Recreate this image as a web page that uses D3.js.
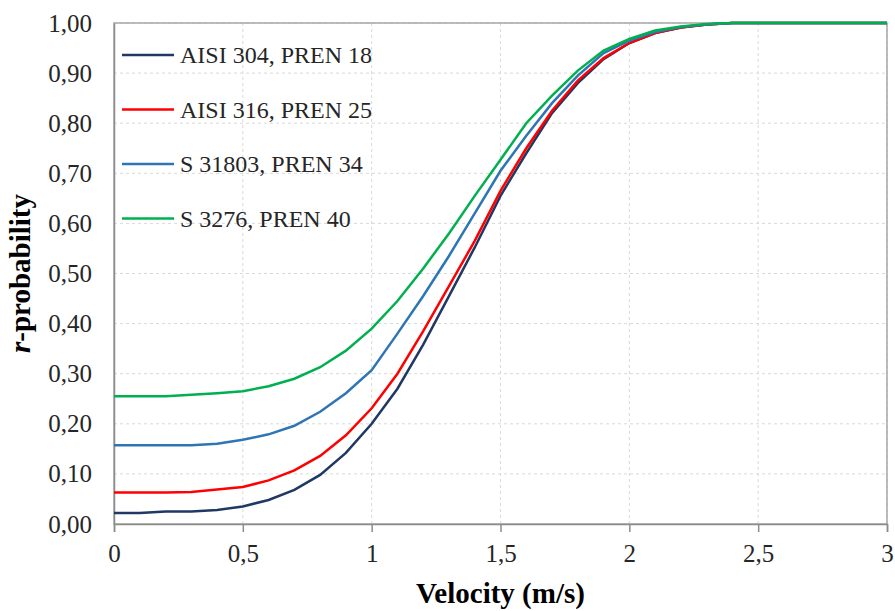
<!DOCTYPE html>
<html>
<head>
<meta charset="utf-8">
<script src="https://cdn.jsdelivr.net/npm/d3@7"></script>
<style>
  body { margin: 0; background: #fff; }
</style>
</head>
<body>
<svg id="chart" width="895" height="611"></svg>
<script>
// velocity steps (m/s)
var velocity = [0, 0.1, 0.2, 0.3, 0.4, 0.5, 0.6, 0.7, 0.8, 0.9, 1.0,
  1.1, 1.2, 1.3, 1.4, 1.5, 1.6, 1.7, 1.8, 1.9, 2.0,
  2.1, 2.2, 2.3, 2.4, 2.5, 2.6, 2.7, 2.8, 2.9, 3.0];

// r-probability per steel grade
var aisi304 = [0.022, 0.022, 0.025, 0.025, 0.028, 0.035, 0.048, 0.068, 0.098, 0.142, 0.200,
  0.270, 0.358, 0.455, 0.552, 0.655, 0.740, 0.820, 0.880, 0.928, 0.960,
  0.980, 0.991, 0.997, 1, 1, 1, 1, 1, 1, 1];
var aisi316 = [0.063, 0.063, 0.063, 0.064, 0.069, 0.074, 0.087, 0.107, 0.136, 0.177, 0.231,
  0.300, 0.385, 0.475, 0.565, 0.665, 0.750, 0.825, 0.885, 0.930, 0.960,
  0.980, 0.991, 0.997, 1, 1, 1, 1, 1, 1, 1];
var s31803 = [0.157, 0.157, 0.157, 0.157, 0.160, 0.168, 0.179, 0.196, 0.224, 0.261, 0.307,
  0.380, 0.455, 0.535, 0.620, 0.705, 0.775, 0.840, 0.895, 0.940, 0.965,
  0.982, 0.992, 0.997, 1, 1, 1, 1, 1, 1, 1];
var s3276 = [0.255, 0.255, 0.255, 0.258, 0.261, 0.265, 0.275, 0.290, 0.313, 0.346, 0.390,
  0.445, 0.510, 0.580, 0.655, 0.727, 0.800, 0.855, 0.905, 0.945, 0.968,
  0.985, 0.993, 0.998, 1, 1, 1, 1, 1, 1, 1];

var seriesNames = ["AISI 304, PREN 18", "AISI 316, PREN 25", "S 31803, PREN 34", "S 3276, PREN 40"];
var seriesColors = ["#1f3864", "#ff0000", "#2e75b6", "#00b050"];
var seriesValues = [aisi304, aisi316, s31803, s3276];

var xTicks = [0, 0.5, 1, 1.5, 2, 2.5, 3];
var yTicks = [0, 0.1, 0.2, 0.3, 0.4, 0.5, 0.6, 0.7, 0.8, 0.9, 1.0];

var serif = '"Liberation Serif", "Times New Roman", serif';
var svg = d3.select("#chart");
var margin = {left: 114, right: 8, top: 23, bottom: 87};
var W = 895, H = 611;

var x = d3.scaleLinear().domain([0, 3]).range([margin.left, W - margin.right]);
var y = d3.scaleLinear().domain([0, 1]).range([H - margin.bottom, margin.top]);

var comma = function(s) { return s.replace(".", ","); };

// dashed grid
svg.append("g").selectAll("line").data(yTicks.slice(1)).join("line")
  .attr("x1", x(0)).attr("x2", x(3))
  .attr("y1", d => y(d)).attr("y2", d => y(d))
  .attr("stroke", "#d9d9d9").attr("stroke-dasharray", "3,3");
svg.append("g").selectAll("line").data(xTicks.slice(1)).join("line")
  .attr("x1", d => x(d)).attr("x2", d => x(d))
  .attr("y1", y(0)).attr("y2", y(1))
  .attr("stroke", "#d9d9d9").attr("stroke-dasharray", "3,3");

// plot frame
svg.append("rect")
  .attr("x", x(0)).attr("y", y(1))
  .attr("width", x(3) - x(0)).attr("height", y(0) - y(1))
  .attr("fill", "none").attr("stroke", "#a6a6a6").attr("stroke-width", 1.5);

// x axis
var xAxis = d3.axisBottom(x).tickValues(xTicks).tickSize(8).tickPadding(12)
  .tickFormat(d => comma(d3.format("")(d)));
var gx = svg.append("g").attr("transform", "translate(0," + y(0) + ")").call(xAxis);
gx.select(".domain").attr("stroke", "#8c8c8c").attr("stroke-width", 1.5);
gx.selectAll(".tick line").attr("stroke", "#8c8c8c").attr("stroke-width", 1.5);
gx.selectAll(".tick text").style("font-size", "25px").style("font-family", serif).attr("fill", "#262626");

// y axis
var yAxis = d3.axisLeft(y).tickValues(yTicks).tickSize(0).tickPadding(22)
  .tickFormat(d => comma(d3.format(".2f")(d)));
var gy = svg.append("g").attr("transform", "translate(" + x(0) + ",0)").call(yAxis);
gy.select(".domain").attr("stroke", "#8c8c8c").attr("stroke-width", 1.5);
gy.selectAll(".tick text").style("font-size", "25px").style("font-family", serif).attr("fill", "#262626");

// series lines
var line = d3.line().x((d, i) => x(velocity[i])).y(d => y(d));
svg.append("g").selectAll("path").data(seriesValues).join("path")
  .attr("d", line)
  .attr("fill", "none")
  .attr("stroke", (d, i) => seriesColors[i])
  .attr("stroke-width", 2.5);

// legend
var legend = svg.append("g").selectAll("g").data(seriesNames).join("g")
  .attr("transform", (d, i) => "translate(122," + (55 + i * 54.5) + ")");
legend.append("line").attr("x1", 0).attr("x2", 52)
  .attr("stroke", (d, i) => seriesColors[i]).attr("stroke-width", 2.5);
legend.append("text").attr("x", 58).attr("dy", "0.35em")
  .style("font-size", "24px").style("font-family", serif).attr("fill", "#262626")
  .text(d => d);

// axis titles
svg.append("text")
  .attr("x", (x(0) + x(3)) / 2).attr("y", 603)
  .attr("text-anchor", "middle")
  .style("font-size", "29px").style("font-family", serif).style("font-weight", "bold")
  .attr("fill", "#000")
  .text("Velocity (m/s)");

var yt = svg.append("text")
  .attr("transform", "translate(30," + (y(0) + y(1)) / 2 + ") rotate(-90)")
  .attr("text-anchor", "middle")
  .style("font-size", "29px").style("font-family", serif).style("font-weight", "bold")
  .attr("fill", "#000");
yt.append("tspan").style("font-style", "italic").text("r");
yt.append("tspan").text("-probability");
</script>
</body>
</html>
